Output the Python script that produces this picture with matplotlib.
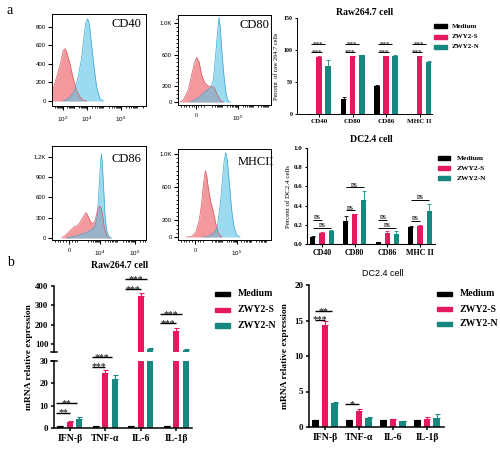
import matplotlib
matplotlib.use('Agg')
import matplotlib.pyplot as plt
from matplotlib.patches import Rectangle
import numpy as np

plt.rcParams['font.family'] = ['Liberation Serif', 'DejaVu Serif']
plt.rcParams['mathtext.fontset'] = 'custom'
plt.rcParams['mathtext.rm'] = 'Liberation Sans'
plt.rcParams['mathtext.it'] = 'Liberation Sans:italic'
plt.rcParams['mathtext.bf'] = 'Liberation Sans:bold'
SANS = ['Liberation Sans', 'DejaVu Sans']

# ---------------- data ----------------
groups = ['Medium', 'ZWY2-S', 'ZWY2-N']
surface_markers = ['CD40', 'CD80', 'CD86', 'MHC II']
cytokines = ['IFN-β', 'TNF-α', 'IL-6', 'IL-1β']

# flow cytometry histograms: display channel (0-100 across plot) and cell counts
cd40_red_x = [0, 5, 8.5, 12, 13.8, 15.6, 19, 22.7, 26.2, 29.8, 33.3, 36.9]
cd40_red_y = [97, 260, 385, 548, 566, 530, 404, 241, 115, 43, 7, 0]
cd40_blue_x = [12, 15.6, 20.9, 24.5, 27.8, 31.4, 34, 36, 37.9, 39.6, 42, 44.7, 47.5, 51, 54.6]
cd40_blue_y = [0, 14, 61, 133, 260, 458, 692, 854, 890, 836, 620, 368, 151, 25, 0]

cd80_red_x = [2.2, 5.7, 11.1, 14.7, 17.6, 20.1, 22.6, 25.4, 29, 32.6, 36.2, 38.7, 41.6, 45.2, 48.7]
cd80_red_y = [0, 25, 152, 342, 490, 565, 510, 342, 236, 203, 194, 186, 110, 25, 0]
cd80_blue_x = [12.9, 18.3, 23.7, 29, 32.6, 35.1, 38, 40.9, 42.7, 44.1, 45.5, 47.3, 49.5, 51.6, 54.1, 56.6]
cd80_blue_y = [0, 25, 68, 131, 160, 186, 278, 658, 911, 1072, 932, 616, 321, 110, 4, 0]

cd86_red_x = [10.3, 13.8, 17.4, 20.9, 24.5, 26.9, 29.8, 32.6, 35.1, 36.2, 37.9, 40.4, 43.3, 45.7,
              48.2, 50.4, 52.1, 53.9, 55.7, 58.2, 61.7]
cd86_red_y = [0, 34, 83, 132, 171, 180, 229, 302, 351, 375, 337, 254, 205, 254,
              400, 473, 449, 327, 156, 34, 0]
cd86_blue_x = [15.6, 22.7, 29.8, 36.9, 42.2, 45.7, 48.2, 50, 51.4, 52.5, 53.5, 55, 56.4, 58.2, 61, 63.5]
cd86_blue_y = [0, 20, 49, 83, 122, 171, 327, 717, 1058, 1244, 1107, 717, 327, 107, 10, 0]

mhc_red_x = [9.3, 14.7, 19.4, 22.9, 25.4, 27.2, 29.4, 30.8, 32.6, 35.1, 38, 40.9, 43.4, 47]
mhc_red_y = [0, 4, 64, 205, 406, 627, 799, 747, 586, 426, 305, 145, 44, 0]
mhc_blue_x = [27.2, 32.6, 36.9, 39.8, 42.3, 45.2, 47.7, 49.5, 51.3, 53, 55.2, 57.7, 60.2, 63.1, 66.7]
mhc_blue_y = [0, 4, 36, 64, 124, 366, 687, 908, 1016, 928, 647, 325, 124, 24, 0]

# percent of positive cells
raw_pct_medium = [0, 24, 44, 0]
raw_pct_medium_err = [0, 2.5, 0.8, 0]
raw_pct_s = [89, 90, 90, 90]
raw_pct_s_err = [1.5, 1, 1, 1.2]
raw_pct_n = [74.5, 91.5, 91, 81]
raw_pct_n_err = [10.5, 0.8, 0.6, 1.5]

dc_pct_medium = [0.074, 0.24, 0.018, 0.18]
dc_pct_medium_err = [0.008, 0.05, 0.003, 0.004]
dc_pct_s = [0.11, 0.31, 0.116, 0.186]
dc_pct_s_err = [0.01, 0.005, 0.015, 0.015]
dc_pct_n = [0.137, 0.46, 0.10, 0.344]
dc_pct_n_err = [0.01, 0.095, 0.035, 0.075]

# mRNA relative expression
raw_mrna_medium = [0.8, 0.8, 0.8, 0.8]
raw_mrna_medium_err = [0.1, 0.1, 0.1, 0.1]
raw_mrna_s = [2.7, 24.7, 349, 167]
raw_mrna_s_err = [0.3, 1.2, 14, 13]
raw_mrna_n = [3.9, 22, 74, 69]
raw_mrna_n_err = [1.0, 1.6, 5, 4]

dc_mrna_medium = [1.0, 1.0, 1.0, 1.0]
dc_mrna_medium_err = [0, 0, 0, 0]
dc_mrna_s = [14.4, 2.2, 1.08, 1.08]
dc_mrna_s_err = [0.5, 0.3, 0.05, 0.35]
dc_mrna_n = [3.35, 1.3, 0.85, 1.3]
dc_mrna_n_err = [0.15, 0.15, 0.03, 0.5]

# ---------------- style ----------------
W, H = 500, 449
fig = plt.figure(figsize=(5, 4.49), dpi=100)
C_MED, C_S, C_N = '#000000', '#E5195F', '#16887F'
COLORS = [C_MED, C_S, C_N]
RED, RED_EDGE = '#F07F84', '#D9585F'
BLUE, BLUE_EDGE = '#5EC4E6', '#3AA8D2'


def add_ax(l, t, r, b):
    return fig.add_axes([l / W, 1 - b / H, (r - l) / W, (b - t) / H])


def log_minor(decades):
    out = []
    for d0, d1 in zip(decades[:-1], decades[1:]):
        out += [d0 + np.log10(k) * (d1 - d0) for k in range(2, 10)]
    return out


def hist_panel(box, rx, ry, bx, by, ylim, yt, ytl, yminor, xt, xtl, xminor, label, lx, ly):
    ax = add_ax(*box)
    ax.fill_between(rx, ry, color=RED, alpha=0.8, lw=0)
    ax.plot(rx, ry, color=RED_EDGE, lw=0.5)
    ax.fill_between(bx, by, color=BLUE, alpha=0.62, lw=0)
    ax.plot(bx, by, color=BLUE_EDGE, lw=0.5)
    ax.set_xlim(0, 100)
    ax.set_ylim(*ylim)
    ax.set_yticks(yt)
    ax.set_yticklabels(ytl, fontsize=4.3, family=SANS)
    ax.set_yticks(yminor, minor=True)
    ax.set_xticks(xt)
    ax.set_xticklabels(xtl, fontsize=4.5)
    ax.set_xticks([m for m in xminor if 0 < m < 100], minor=True)
    ax.tick_params(axis='both', which='major', length=3, width=0.8, pad=1.5)
    ax.tick_params(axis='both', which='minor', length=1.6, width=0.6)
    ax.tick_params(axis='x', pad=3)
    for s in ax.spines.values():
        s.set_linewidth(0.7)
    ax.text(lx, ly, label, transform=ax.transAxes, fontsize=9, ha='center', va='center')
    return ax


def draw_bars(ax, series, errs, offs, width, capsize, elw):
    x = np.arange(4)
    for k in range(3):
        ax.bar(x + offs[k], series[k], width, color=COLORS[k], zorder=2,
               yerr=[np.zeros(4), errs[k]],
               error_kw=dict(ecolor=COLORS[k], capsize=capsize, elinewidth=elw, capthick=elw))


def sig(ax, x1, x2, y, txt, fs, off, lw=0.7):
    ax.plot([x1, x2], [y, y], color='k', lw=lw, clip_on=False, solid_capstyle='butt')
    ax.annotate(txt, xy=((x1 + x2) / 2, y), xytext=(0, off), textcoords='offset points',
                ha='center', va='baseline', fontsize=fs, annotation_clip=False)


def legend_px(xm, xt, ys, w, h, fs):
    for y, name, c in zip(ys, groups, COLORS):
        fig.patches.append(Rectangle((xm / W, 1 - (y + h / 2) / H), w / W, h / H,
                                     transform=fig.transFigure, color=c))
        fig.text(xt / W, 1 - y / H, name, fontsize=fs, fontweight='bold', va='center', ha='left')


def style_bar_axes(ax, lw, tl, fs_x, fs_y):
    ax.spines['top'].set_visible(False)
    ax.spines['right'].set_visible(False)
    ax.spines['left'].set_linewidth(lw)
    ax.spines['bottom'].set_linewidth(lw)
    ax.tick_params(length=tl, width=lw, pad=1.5)
    for t in ax.get_xticklabels():
        t.set_fontsize(fs_x); t.set_fontweight('bold')
    for t in ax.get_yticklabels():
        t.set_fontsize(fs_y); t.set_fontweight('bold')


# ---------------- histograms ----------------
hist_panel((52, 14, 146, 106), cd40_red_x, cd40_red_y, cd40_blue_x, cd40_blue_y, (-54, 940),
           [0, 200, 400, 600, 800], ['0', '200', '400', '600', '800'], [],
           [11.7, 37.2, 73.4], [r'$10^{2}$', r'$10^{4}$', r'$10^{6}$'],
           log_minor([-1, 11.7, 24.5, 37.2, 55.3, 73.4, 91.5, 109.6]), 'CD40', 0.79, 0.89)

hist_panel((178, 15, 271, 105), cd80_red_x, cd80_red_y, cd80_blue_x, cd80_blue_y, (-38, 1100),
           [0, 200, 600, 1000], ['0', '200', '600', '1.0K'], list(range(50, 1100, 50)),
           [19.4, 64.5], ['0', r'$10^{5}$'],
           [3, 6, 9, 12, 15, 17, 22, 25, 28] + log_minor([32, 48, 64.5, 81, 97.5]), 'CD80', 0.82, 0.89)

hist_panel((52, 146, 146, 240), cd86_red_x, cd86_red_y, cd86_blue_x, cd86_blue_y, (-30, 1360),
           [0, 300, 600, 900, 1200], ['0', '300', '600', '900', '1.2K'], [],
           [18, 51, 88], ['0', r'$10^{4}$', r'$10^{6}$'],
           [3, 6, 9, 12, 15, 21, 24, 27] + log_minor([32.5, 51, 69.5, 88, 106.5]), 'CD86', 0.79, 0.86)

hist_panel((178, 149, 271, 240), mhc_red_x, mhc_red_y, mhc_blue_x, mhc_blue_y, (-36, 1060),
           [0, 200, 600, 1000], ['0', '200', '600', '1.0K'], list(range(50, 1050, 50)),
           [18.3, 63.4], ['0', r'$10^{5}$'],
           [3, 6, 9, 12, 15, 21, 24, 27] + log_minor([32, 47.5, 63.4, 79.5, 95.5]), 'MHCII', 0.84, 0.86)

fig.text(10 / W, 1 - 10 / H, 'a', fontsize=10, ha='center', va='center')
fig.text(10 / W, 1 - 263 / H, 'b', fontsize=10, ha='center', va='center')

# ---------------- Raw264.7 percent ----------------
ax = add_ax(297, 18, 432, 114)
draw_bars(ax, [raw_pct_medium, raw_pct_s, raw_pct_n],
          [raw_pct_medium_err, raw_pct_s_err, raw_pct_n_err], (-0.27, 0, 0.27), 0.17, 1.2, 0.6)
ax.set_xlim(-0.66, 3.37)
ax.set_ylim(0, 150)
ax.set_yticks([0, 50, 100, 150])
ax.set_xticks(range(4))
ax.set_xticklabels(surface_markers)
style_bar_axes(ax, 0.7, 1.8, 5, 4.3)
ax.set_ylabel('Percent  of raw 264.7 cells', fontsize=4.5, labelpad=3)
ax.set_title('Raw264.7 cell', fontsize=7, fontweight='bold', pad=2)
for i in range(4):
    sig(ax, i - 0.24, i + 0.18, 109, '***', 5, -1.2)
    sig(ax, i - 0.24, i + 0.08, 97.5, '***', 5, -1.2)
legend_px(434, 452, [26, 37, 47], 13, 3.5, 5)

# ---------------- DC2.4 percent ----------------
ax = add_ax(307, 148, 435, 244)
draw_bars(ax, [dc_pct_medium, dc_pct_s, dc_pct_n],
          [dc_pct_medium_err, dc_pct_s_err, dc_pct_n_err], (-0.28, 0, 0.28), 0.16, 1.2, 0.6)
ax.set_xlim(-0.46, 3.46)
ax.set_ylim(0, 1.0)
ax.set_yticks([0, 0.2, 0.4, 0.6, 0.8, 1.0])
ax.set_yticklabels(['0.0', '0.2', '0.4', '0.6', '0.8', '1.0'])
ax.set_xticks(range(4))
ax.set_xticklabels(surface_markers)
style_bar_axes(ax, 0.8, 1.8, 5.8, 5)
ax.set_ylabel('Percent of DC2.4 cells', fontsize=5, labelpad=2)
ax.set_title('DC2.4 cell', fontsize=7, fontweight='bold', pad=4)
dc_sig = [(0.25, 0.17), (0.35, 0.59), (0.25, 0.17), (0.24, 0.46)]
for i, (ys, yl) in enumerate(dc_sig):
    sig(ax, i - 0.28, i, ys, 'ns', 5.5, 0.6)
    sig(ax, i - 0.28, i + 0.28, yl, 'ns', 5.5, 0.6)
legend_px(438, 457, [158, 168, 178], 12, 3.5, 5.4)

# ---------------- Raw264.7 mRNA (broken axis) ----------------
ax_lo = add_ax(54, 361, 192, 428)
ax_hi = add_ax(54, 286, 192, 352)
for a in (ax_lo, ax_hi):
    draw_bars(a, [raw_mrna_medium, raw_mrna_s, raw_mrna_n],
              [raw_mrna_medium_err, raw_mrna_s_err, raw_mrna_n_err], (-0.27, 0, 0.27), 0.17, 1.8, 0.8)
    a.set_xlim(-0.45, 3.45)
ax_lo.set_ylim(0, 30)
ax_lo.set_yticks([0, 10, 20, 30])
ax_lo.set_xticks(range(4))
ax_lo.set_xticklabels(cytokines)
style_bar_axes(ax_lo, 1.1, 2.5, 7, 6.3)
ax_hi.set_ylim(58, 400)
ax_hi.set_yticks([100, 200, 300, 400])
ax_hi.set_xticks([])
style_bar_axes(ax_hi, 1.1, 2.5, 7, 6.3)
ax_hi.spines['bottom'].set_visible(False)
for a, yv in ((ax_hi, 0), (ax_lo, 1)):
    a.plot([-0.025, 0.025], [yv, yv], transform=a.transAxes, color='k', lw=1.1, clip_on=False)
raw_sig = [(6.9, 11.05, '**'), (27.5, 31.7, '***')]
for i, (ys, yl, t) in enumerate(raw_sig):
    sig(ax_lo, i - 0.38, i, ys, t, 7, -2.0, 1.0)
    sig(ax_lo, i - 0.38, i + 0.2, yl, t, 7, -2.0, 1.0)
for i, ys, yl in ((2, 383, 435), (3, 207, 254)):
    sig(ax_hi, i - 0.45, i, ys, '***', 7, -2.0, 1.0)
    sig(ax_hi, i - 0.45, i + 0.17, yl, '***', 7, -2.0, 1.0)
fig.text(29 / W, 1 - 357 / H, 'mRNA relative expression', rotation=90, fontsize=6.8,
         fontweight='bold', ha='center', va='center')
fig.text(120 / W, 1 - 266 / H, 'Raw264.7 cell', fontsize=7, fontweight='bold', ha='center', va='center')
legend_px(215, 238, [294, 310, 325.5], 15, 4.5, 7)

# ---------------- DC2.4 mRNA ----------------
ax = add_ax(309, 285, 444, 427)
draw_bars(ax, [dc_mrna_medium, dc_mrna_s, dc_mrna_n],
          [dc_mrna_medium_err, dc_mrna_s_err, dc_mrna_n_err], (-0.28, 0, 0.28), 0.18, 1.8, 0.8)
ax.set_xlim(-0.47, 3.5)
ax.set_ylim(0, 20)
ax.set_yticks([0, 5, 10, 15, 20])
ax.set_xticks(range(4))
ax.set_xticklabels(cytokines)
style_bar_axes(ax, 1.1, 2.5, 7, 6.5)
ax.set_ylabel('mRNA relative expression', fontsize=6.8, fontweight='bold', labelpad=4)
sig(ax, -0.29, 0.2, 16.3, '**', 7, -2.0, 1.0)
sig(ax, -0.29, 0.0, 15.1, '***', 7, -2.0, 1.0)
sig(ax, 1 - 0.42, 1.0, 3.2, '*', 7, -2.0, 1.0)
fig.text(383 / W, 1 - 274 / H, 'DC2.4 cell', fontsize=6.5, family=SANS, ha='center', va='center')
legend_px(437, 460, [294, 309, 324], 15, 4.5, 7)

fig.savefig('out.png', dpi=100)
